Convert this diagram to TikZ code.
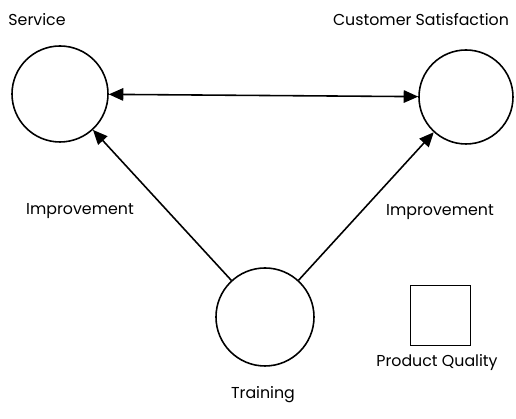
\documentclass[tikz,border=0pt]{standalone}
\usepackage{fontspec}
\setmainfont{Poppins}
\usetikzlibrary{arrows.meta,positioning}

\begin{document}
\begin{tikzpicture}[x=1cm,y=1cm,font=\small,
  ring/.style={draw=black,circle,line width=0.9pt,minimum size=1.92cm,inner sep=0pt},
  sq/.style={draw=black,line width=0.9pt,minimum size=1.2cm,inner sep=0pt},
  link/.style={-{Triangle[length=2.9mm,width=2.5mm]},line width=0.9pt},
  lab/.style={align=center,inner sep=1pt}]
\useasboundingbox (0,0) rectangle (10.32,8.38);
\node[ring] (service) at (1.20,6.50) {};
\node[ring,minimum size=1.88cm] (satis) at (9.32,6.44) {};
\node[ring,minimum size=1.96cm] (train) at (5.30,2.04) {};
\node[sq] (quality) at (8.81,2.07) {};
\node[lab] (servicelab) at (0.74,7.98) {Service};
\node[lab] (satislab) at (8.42,7.98) {Customer Satisfaction};
\node[lab] (imprl) at (1.60,4.16) {Improvement};
\node[lab] (imprr) at (8.80,4.14) {Improvement};
\node[lab] (trainlab) at (5.26,0.48) {Training};
\node[lab] (qualitylab) at (8.74,1.12) {Product Quality};
\draw[link,{Triangle[length=2.9mm,width=2.5mm]}-{Triangle[length=2.9mm,width=2.5mm]}] (service) -- (satis);
\draw[link] (train) -- (service);
\draw[link] (train) -- (satis);
\end{tikzpicture}
\end{document}
